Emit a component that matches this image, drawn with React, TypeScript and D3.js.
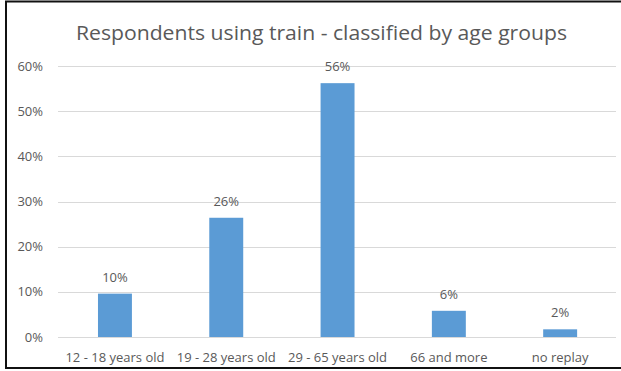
import React from "react";
import * as d3 from "d3";

const categories = ["12 - 18 years old", "19 - 28 years old", "29 - 65 years old", "66 and more", "no replay"];
const values = [9.6, 26.4, 56.2, 5.8, 1.7];
const valueLabels = ["10%", "26%", "56%", "6%", "2%"];
const yTicks = [0, 10, 20, 30, 40, 50, 60];
const title = "Respondents using train - classified by age groups";

export default function App() {
  const W = 621, H = 371;
  const left = 59.3, right = 615.8, top = 66, bottom = 337;
  const x = d3.scaleBand<string>().domain(categories).range([left, right]).paddingInner(0.695).paddingOuter(0.3475);
  const y = d3.scaleLinear().domain([0, 60]).range([bottom, top]);
  const font = "'Open Sans', sans-serif";
  const gray = "#595959";
  const fs = 13;
  return (
    <svg width={W} height={H} style={{ position: "absolute", left: 0, top: 0 }}>
      <rect x={0} y={0} width={W} height={H} fill="#fff" />
      <rect x={6} y={1.5} width={W + 10} height={366.5} fill="none" stroke="#111" strokeWidth={2} />
      <text x={321.5} y={40} textAnchor="middle" fontFamily={font} fontSize={19.5} fill={gray} textLength={491} lengthAdjust="spacingAndGlyphs">{title}</text>
      {yTicks.map(t => (
        <g key={t}>
          <line x1={58} x2={616} y1={Math.round(y(t)) + 0.5} y2={Math.round(y(t)) + 0.5} stroke="#d9d9d9" strokeWidth={1} />
          <text x={43} y={y(t) + 4.5} textAnchor="end" fontFamily={font} fontSize={fs} fill={gray}>{t}%</text>
        </g>
      ))}
      {categories.map((c, i) => (
        <g key={c}>
          <rect x={x(c)} y={y(values[i])} width={x.bandwidth()} height={bottom - y(values[i])} fill="#5b9bd5" />
          <text x={(x(c) as number) + x.bandwidth() / 2} y={y(values[i]) - 12} textAnchor="middle" fontFamily={font} fontSize={fs} fill={gray}>{valueLabels[i]}</text>
          <text x={(x(c) as number) + x.bandwidth() / 2} y={361.5} textAnchor="middle" fontFamily={font} fontSize={fs} fill={gray}>{c}</text>
        </g>
      ))}
    </svg>
  );
}
